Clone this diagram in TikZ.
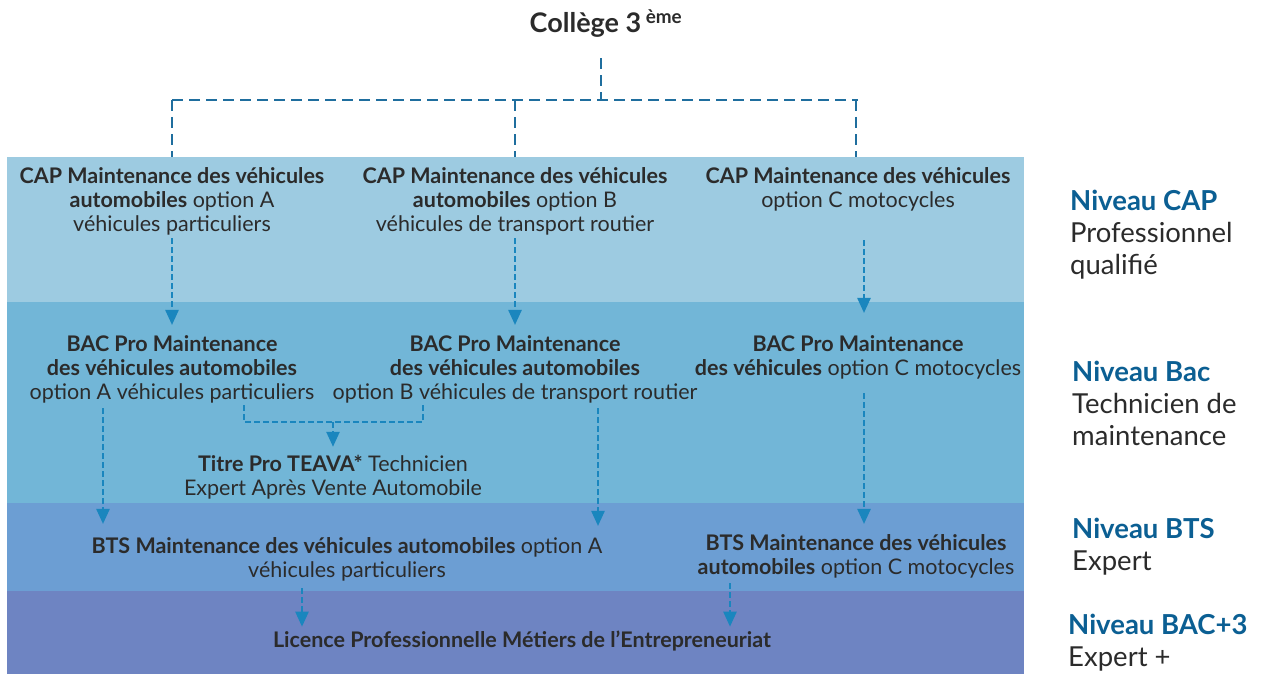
\documentclass[tikz,border=0pt]{standalone}
\usepackage{fontspec}
\setmainfont{Lato}
\usetikzlibrary{arrows.meta}
\definecolor{b1}{HTML}{9DCBE1}
\definecolor{b2}{HTML}{72B6D7}
\definecolor{b3}{HTML}{6C9ED3}
\definecolor{b4}{HTML}{6E84C2}
\definecolor{arrc}{HTML}{1A86BE}
\definecolor{topc}{HTML}{1F6E9E}
\definecolor{headc}{HTML}{0B5F93}
\definecolor{txt}{HTML}{2B2B2B}
\tikzset{
  lbl/.style={align=center, font=\fontsize{21.5}{24}\selectfont, text=txt, inner sep=0pt},
  side/.style={anchor=west, align=left, font=\fontsize{27.5}{32}\selectfont, text=txt, inner sep=0pt},
  arr/.style={draw=arrc, line width=2.4pt, dash pattern=on 6pt off 3pt, -{Triangle[length=15pt,width=13pt]}},
  topline/.style={draw=topc, line width=2.4pt, dash pattern=on 11pt off 6pt},
}
\newcommand{\hd}[1]{\textbf{\textcolor{headc}{#1}}}
\begin{document}
\begin{tikzpicture}[x=1pt,y=-1pt]
\useasboundingbox (0,0) rectangle (1268,674);
\fill[white] (0,0) rectangle (1268,674);
% bands
\fill[b1] (7,157) rectangle (1024,302);
\fill[b2] (7,302) rectangle (1024,503);
\fill[b3] (7,503) rectangle (1024,591);
\fill[b4] (7,591) rectangle (1024,674);
\coordinate (bandtop) at (0,157);
\coordinate (hub) at (601,100);
\coordinate (xA) at (103,0);
\coordinate (xB) at (598,0);
\coordinate (xC) at (864,0);
\coordinate (xL1) at (302,0);
\coordinate (xL2) at (730,0);

\node[lbl, font=\fontsize{27}{30}\selectfont] (college) at (606,24) {\textbf{Collège 3\,\textsuperscript{ème}}};

\node[lbl] (capA) at (172,201) {\textbf{CAP Maintenance des véhicules}\\\textbf{automobiles} option A\\véhicules particuliers};
\node[lbl] (capB) at (515,201) {\textbf{CAP Maintenance des véhicules}\\\textbf{automobiles} option B\\véhicules de transport routier};
\node[lbl] (capC) at (858,189) {\textbf{CAP Maintenance des véhicules}\\option C motocycles};

\node[lbl] (bacA) at (172,369) {\textbf{BAC Pro Maintenance}\\\textbf{des véhicules automobiles}\\option A véhicules particuliers};
\node[lbl] (bacB) at (515,369) {\textbf{BAC Pro Maintenance}\\\textbf{des véhicules automobiles}\\option B véhicules de transport routier};
\node[lbl] (bacC) at (858,357) {\textbf{BAC Pro Maintenance}\\\textbf{des véhicules} option C motocycles};

\node[lbl] (titre) at (333,477) {\textbf{Titre Pro TEAVA*} Technicien\\Expert Après Vente Automobile};

\node[lbl] (btsA) at (347,559) {\textbf{BTS Maintenance des véhicules automobiles} option A\\véhicules particuliers};
\node[lbl] (btsC) at (856,556) {\textbf{BTS Maintenance des véhicules}\\\textbf{automobiles} option C motocycles};

\node[lbl] (lic) at (522,641) {\textbf{Licence Professionnelle Métiers de l’Entrepreneuriat}};

% right labels
\node[side] (nCAP) at (1070,235) {\hd{Niveau CAP}\\Professionnel\\qualifié};
\node[side] (nBac) at (1072,403) {\hd{Niveau Bac}\\Technicien de\\maintenance};
\node[side] (nBTS) at (1072,547) {\hd{Niveau BTS}\\Expert};
\node[side] (nL3) at (1068,643) {\hd{Niveau BAC+3}\\Expert +};

% top connector
\draw[topline] ([yshift=-20pt]college.south -| hub) -- (hub);
\draw[topline] (capA.north |- hub) -- (capC.north |- hub);
\draw[topline] (capA.north |- hub) -- (capA.north |- bandtop);
\draw[topline] (capB.north |- hub) -- (capB.north |- bandtop);
\draw[topline] ([xshift=-2pt]capC.north |- hub) -- ([xshift=-2pt]capC.north |- bandtop);

% CAP -> BAC
\draw[arr] ([yshift=-3pt]capA.south) -- ([yshift=10pt]bacA.north);
\draw[arr] ([yshift=-3pt]capB.south) -- ([yshift=10pt]bacB.north);
\draw[arr] ([yshift=-29pt]capC.south -| xC) -- ([yshift=22pt]bacC.north -| xC);

% BAC A/B -> Titre
\coordinate (brL) at (244,405);
\coordinate (brR) at (423,405);
\coordinate (brM) at (333,422);
\draw[arrc, line width=2.4pt, dash pattern=on 6pt off 3pt] (brL) |- (brR |- brM) -- (brR);
\draw[arr] (brM) -- ([yshift=8pt]titre.north);

% BAC -> BTS
\draw[arr] ([yshift=-5pt]bacA.south -| xA) -- ([yshift=13pt]btsA.north -| xA);
\draw[arr] ([yshift=-5pt]bacB.south -| xB) -- ([yshift=11pt]btsA.north -| xB);
\draw[arr] ([yshift=-14pt]bacC.south -| xC) -- ([yshift=10pt]btsC.north -| xC);

% BTS -> Licence
\draw[arr] ([yshift=-7pt]btsA.south -| xL1) -- ([yshift=4pt]lic.north -| xL1);
\draw[arr] ([yshift=-5pt]btsC.south -| xL2) -- ([yshift=4pt]lic.north -| xL2);
\end{tikzpicture}
\end{document}
